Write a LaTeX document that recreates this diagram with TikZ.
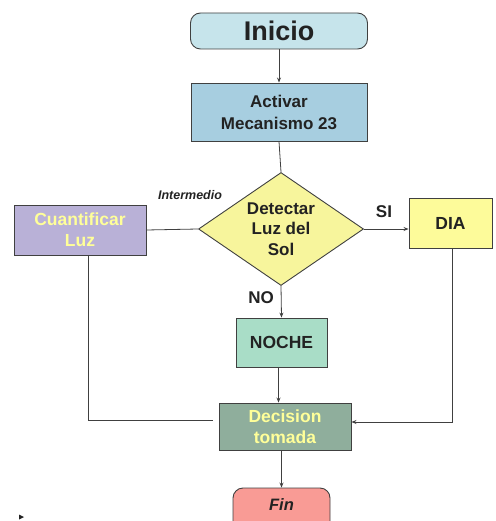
\documentclass[tikz,border=0pt]{standalone}
\usepackage{fontspec}
\setmainfont{Liberation Sans}
\usetikzlibrary{shapes.geometric,arrows.meta}

\definecolor{inicioFill}{HTML}{C6E4EB}
\definecolor{activarFill}{HTML}{A7CEE0}
\definecolor{detectFill}{HTML}{F7F59C}
\definecolor{cuantFill}{HTML}{B9B1D7}
\definecolor{diaFill}{HTML}{FDFB9A}
\definecolor{nocheFill}{HTML}{A9DDC7}
\definecolor{decFill}{HTML}{8FAE9C}
\definecolor{finFill}{HTML}{F99B95}
\definecolor{paleText}{HTML}{FFFF99}
\definecolor{inkText}{HTML}{222222}
\definecolor{edgeGray}{HTML}{404040}

\tikzset{
  box/.style={draw=edgeGray, line width=0.9pt, inner sep=0pt, align=center,
    font=\bfseries\fontsize{17}{22}\selectfont, text=inkText},
  terminal/.style={box, rounded corners=10pt},
  decision/.style={box, diamond, inner sep=0pt},
  link/.style={draw=edgeGray, line width=0.8pt},
  arrowlink/.style={link, -{Stealth[length=5pt,width=4pt]}},
  caption/.style={font=\bfseries\fontsize{17}{20}\selectfont, text=inkText, inner sep=0pt}
}

\begin{document}
\begin{tikzpicture}[x=1pt,y=-1pt]
\useasboundingbox (0,0) rectangle (495,521);
\clip (0,0) rectangle (495,521);

% process steps
\node[terminal, fill=inicioFill, minimum width=177pt, minimum height=36pt,
      font=\bfseries\fontsize{27}{30}\selectfont] (inicio) at (279,31) {Inicio};
\node[box, fill=activarFill, minimum width=176pt, minimum height=58pt] (activar) at (279,112) {Activar\\Mecanismo 23};
\node[decision, fill=detectFill, minimum width=165pt, minimum height=113pt, aspect=1.46,
      font=\bfseries\fontsize{17}{20.5}\selectfont] (detectar) at (281,229) {Detectar\\Luz del\\Sol};
\node[box, fill=cuantFill, text=paleText, minimum width=132pt, minimum height=50pt,
      font=\bfseries\fontsize{17.5}{21}\selectfont] (cuant) at (80,230) {Cuantificar\\Luz};
\node[box, fill=diaFill, minimum width=83pt, minimum height=50pt,
      font=\bfseries\fontsize{17.5}{20}\selectfont] (dia) at (450.5,223) {DIA};
\node[box, fill=nocheFill, minimum width=91pt, minimum height=49pt,
      font=\bfseries\fontsize{17.5}{20}\selectfont] (noche) at (281.5,342.5) {NOCHE};
\node[box, fill=decFill, text=paleText, minimum width=132pt, minimum height=47pt,
      font=\bfseries\fontsize{17.5}{21}\selectfont] (dec) at (285,426.5) {Decision\\tomada};
\node[terminal, fill=finFill, minimum width=97pt, minimum height=44pt,
      font=\bfseries\itshape\fontsize{16.5}{19}\selectfont] (fin) at (281.5,510) {\raisebox{10pt}{Fin}};

% branch labels
\node[font=\bfseries\itshape\fontsize{12.5}{14}\selectfont, text=inkText, inner sep=0pt] (lblInter) at (190,195) {Intermedio};
\node[caption] (lblSi) at (384,212) {SI};
\node[caption] (lblNo) at (261,298) {NO};

% connectors
\draw[arrowlink] (inicio.south) -- (activar.north);
\draw[link] (activar.south) -- (detectar.north);
\draw[link] (cuant.east) -- (detectar.west);
\draw[arrowlink] (detectar.east) -- (detectar.east -| dia.west);
\draw[arrowlink] (detectar.south) -- (noche.north);
\draw[arrowlink] ([xshift=-3pt]noche.south) -- ([xshift=-3pt]noche.south |- dec.north);
\draw[arrowlink] (fin.north |- dec.south) -- (fin.north);

\coordinate (leftEnd) at ([xshift=-6pt,yshift=6.5pt]dec.west);
\draw[link] ([xshift=8pt]cuant.south) |- (leftEnd);
\draw[arrowlink] ([xshift=1.5pt]dia.south) |- ([yshift=4.5pt]dec.east);

% small pointer mark at the lower left
\fill[inkText] (19,514.5) -- (24,517) -- (19,519.5) -- cycle;
\end{tikzpicture}
\end{document}
